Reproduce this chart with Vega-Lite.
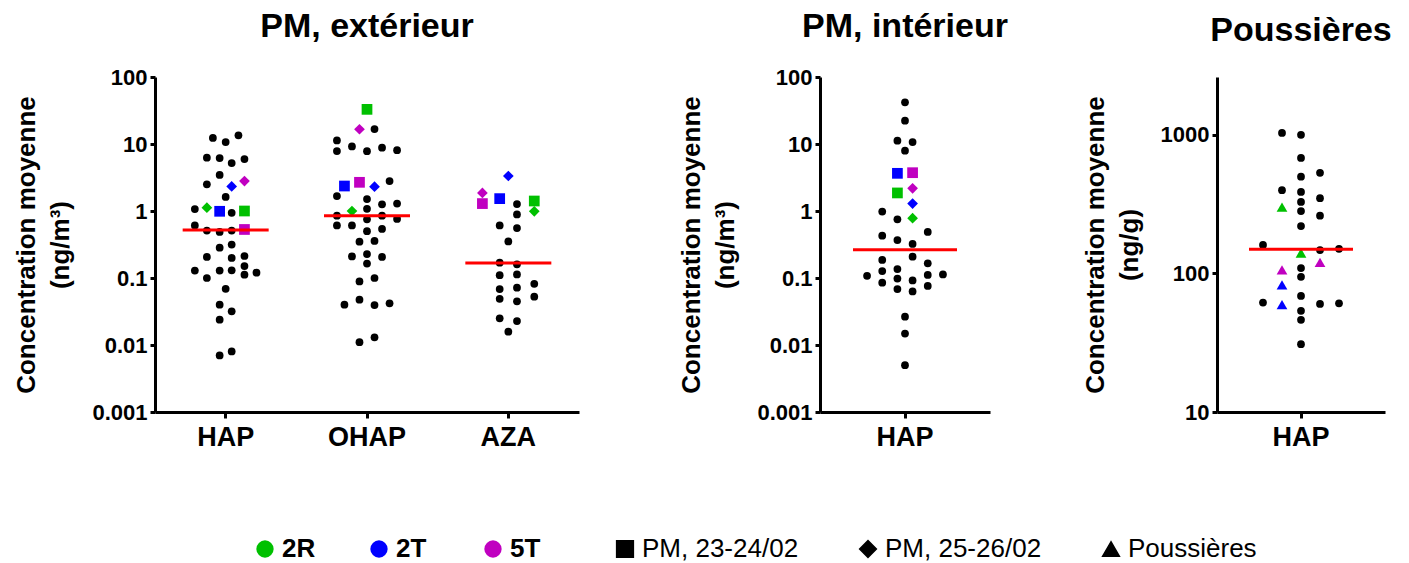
{
  "$schema": "https://vega.github.io/schema/vega-lite/v6.json",
  "background": "white",
  "padding": {"left": 13, "top": 10, "right": 5, "bottom": 0},
  "config": {
    "font": "Liberation Sans",
    "view": {"stroke": null},
    "axis": {"domainColor": "black", "domainWidth": 3, "tickColor": "black", "tickWidth": 3, "labelColor": "black", "labelFontWeight": "bold", "titleFontWeight": "bold", "titleColor": "black", "grid": false},
    "axisY": {"labelFontSize": 22, "tickSize": 5, "labelPadding": 3, "titleFontSize": 26, "titleLineHeight": 34, "titlePadding": 18},
    "axisX": {"labelFontSize": 27, "tickSize": 6, "labelPadding": 6, "labelAngle": 0},
    "title": {"fontSize": 34, "fontWeight": "bold", "color": "black", "frame": "group", "anchor": "middle", "offset": 22},
    "legend": {"labelColor": "black", "labelFontSize": 26, "padding": 0}
  },
  "datasets": {
    "points": [
      {"panneau": "ext", "cat": "HAP", "site": "autre", "type": "autre", "rang": -1.7, "valeur": 12.3},
      {"panneau": "ext", "cat": "HAP", "site": "autre", "type": "autre", "rang": 0, "valeur": 10.7},
      {"panneau": "ext", "cat": "HAP", "site": "autre", "type": "autre", "rang": 1.7, "valeur": 13.5},
      {"panneau": "ext", "cat": "HAP", "site": "autre", "type": "autre", "rang": -2.5, "valeur": 6.25},
      {"panneau": "ext", "cat": "HAP", "site": "autre", "type": "autre", "rang": -0.8, "valeur": 6.18},
      {"panneau": "ext", "cat": "HAP", "site": "autre", "type": "autre", "rang": 0.8, "valeur": 5.2},
      {"panneau": "ext", "cat": "HAP", "site": "autre", "type": "autre", "rang": 2.5, "valeur": 5.97},
      {"panneau": "ext", "cat": "HAP", "site": "autre", "type": "autre", "rang": -0.8, "valeur": 3.45},
      {"panneau": "ext", "cat": "HAP", "site": "autre", "type": "autre", "rang": -2.5, "valeur": 2.5},
      {"panneau": "ext", "cat": "HAP", "site": "autre", "type": "autre", "rang": 0, "valeur": 1.62},
      {"panneau": "ext", "cat": "HAP", "site": "autre", "type": "autre", "rang": -4.1, "valeur": 1.07},
      {"panneau": "ext", "cat": "HAP", "site": "autre", "type": "autre", "rang": 0.8, "valeur": 0.94},
      {"panneau": "ext", "cat": "HAP", "site": "autre", "type": "autre", "rang": -4.1, "valeur": 0.61},
      {"panneau": "ext", "cat": "HAP", "site": "autre", "type": "autre", "rang": -2.5, "valeur": 0.51},
      {"panneau": "ext", "cat": "HAP", "site": "autre", "type": "autre", "rang": -0.8, "valeur": 0.486},
      {"panneau": "ext", "cat": "HAP", "site": "autre", "type": "autre", "rang": 0.8, "valeur": 0.51},
      {"panneau": "ext", "cat": "HAP", "site": "autre", "type": "autre", "rang": -0.8, "valeur": 0.284},
      {"panneau": "ext", "cat": "HAP", "site": "autre", "type": "autre", "rang": 0.8, "valeur": 0.315},
      {"panneau": "ext", "cat": "HAP", "site": "autre", "type": "autre", "rang": -2.5, "valeur": 0.206},
      {"panneau": "ext", "cat": "HAP", "site": "autre", "type": "autre", "rang": 0.8, "valeur": 0.199},
      {"panneau": "ext", "cat": "HAP", "site": "autre", "type": "autre", "rang": 2.5, "valeur": 0.213},
      {"panneau": "ext", "cat": "HAP", "site": "autre", "type": "autre", "rang": -4.1, "valeur": 0.129},
      {"panneau": "ext", "cat": "HAP", "site": "autre", "type": "autre", "rang": -0.8, "valeur": 0.129},
      {"panneau": "ext", "cat": "HAP", "site": "autre", "type": "autre", "rang": 0.8, "valeur": 0.13},
      {"panneau": "ext", "cat": "HAP", "site": "autre", "type": "autre", "rang": 2.5, "valeur": 0.151},
      {"panneau": "ext", "cat": "HAP", "site": "autre", "type": "autre", "rang": 2.5, "valeur": 0.112},
      {"panneau": "ext", "cat": "HAP", "site": "autre", "type": "autre", "rang": 4.1, "valeur": 0.12},
      {"panneau": "ext", "cat": "HAP", "site": "autre", "type": "autre", "rang": -2.5, "valeur": 0.1},
      {"panneau": "ext", "cat": "HAP", "site": "autre", "type": "autre", "rang": 0, "valeur": 0.069},
      {"panneau": "ext", "cat": "HAP", "site": "autre", "type": "autre", "rang": -0.8, "valeur": 0.04},
      {"panneau": "ext", "cat": "HAP", "site": "autre", "type": "autre", "rang": 0.8, "valeur": 0.0318},
      {"panneau": "ext", "cat": "HAP", "site": "autre", "type": "autre", "rang": -0.8, "valeur": 0.0239},
      {"panneau": "ext", "cat": "HAP", "site": "autre", "type": "autre", "rang": -0.8, "valeur": 0.007},
      {"panneau": "ext", "cat": "HAP", "site": "autre", "type": "autre", "rang": 0.8, "valeur": 0.008},
      {"panneau": "ext", "cat": "HAP", "site": "2T", "type": "PM, 25-26/02", "rang": 0.8, "valeur": 2.33},
      {"panneau": "ext", "cat": "HAP", "site": "5T", "type": "PM, 25-26/02", "rang": 2.5, "valeur": 2.8},
      {"panneau": "ext", "cat": "HAP", "site": "2R", "type": "PM, 25-26/02", "rang": -2.5, "valeur": 1.12},
      {"panneau": "ext", "cat": "HAP", "site": "2T", "type": "PM, 23-24/02", "rang": -0.8, "valeur": 0.99},
      {"panneau": "ext", "cat": "HAP", "site": "2R", "type": "PM, 23-24/02", "rang": 2.5, "valeur": 1.0},
      {"panneau": "ext", "cat": "HAP", "site": "5T", "type": "PM, 23-24/02", "rang": 2.5, "valeur": 0.53},

      {"panneau": "ext", "cat": "OHAP", "site": "autre", "type": "autre", "rang": 1, "valeur": 16.7},
      {"panneau": "ext", "cat": "OHAP", "site": "autre", "type": "autre", "rang": -4, "valeur": 11.3},
      {"panneau": "ext", "cat": "OHAP", "site": "autre", "type": "autre", "rang": -4, "valeur": 7.86},
      {"panneau": "ext", "cat": "OHAP", "site": "autre", "type": "autre", "rang": -2, "valeur": 9.2},
      {"panneau": "ext", "cat": "OHAP", "site": "autre", "type": "autre", "rang": 0, "valeur": 7.8},
      {"panneau": "ext", "cat": "OHAP", "site": "autre", "type": "autre", "rang": 2, "valeur": 8.8},
      {"panneau": "ext", "cat": "OHAP", "site": "autre", "type": "autre", "rang": 4, "valeur": 8.1},
      {"panneau": "ext", "cat": "OHAP", "site": "autre", "type": "autre", "rang": 3, "valeur": 2.8},
      {"panneau": "ext", "cat": "OHAP", "site": "autre", "type": "autre", "rang": -4, "valeur": 1.67},
      {"panneau": "ext", "cat": "OHAP", "site": "autre", "type": "autre", "rang": 0, "valeur": 1.51},
      {"panneau": "ext", "cat": "OHAP", "site": "autre", "type": "autre", "rang": 0, "valeur": 1.08},
      {"panneau": "ext", "cat": "OHAP", "site": "autre", "type": "autre", "rang": 2, "valeur": 1.26},
      {"panneau": "ext", "cat": "OHAP", "site": "autre", "type": "autre", "rang": 4, "valeur": 1.29},
      {"panneau": "ext", "cat": "OHAP", "site": "autre", "type": "autre", "rang": -4, "valeur": 0.85},
      {"panneau": "ext", "cat": "OHAP", "site": "autre", "type": "autre", "rang": 2, "valeur": 0.85},
      {"panneau": "ext", "cat": "OHAP", "site": "autre", "type": "autre", "rang": 0, "valeur": 0.75},
      {"panneau": "ext", "cat": "OHAP", "site": "autre", "type": "autre", "rang": 4, "valeur": 0.76},
      {"panneau": "ext", "cat": "OHAP", "site": "autre", "type": "autre", "rang": -4, "valeur": 0.61},
      {"panneau": "ext", "cat": "OHAP", "site": "autre", "type": "autre", "rang": -2, "valeur": 0.61},
      {"panneau": "ext", "cat": "OHAP", "site": "autre", "type": "autre", "rang": 0, "valeur": 0.5},
      {"panneau": "ext", "cat": "OHAP", "site": "autre", "type": "autre", "rang": 2, "valeur": 0.54},
      {"panneau": "ext", "cat": "OHAP", "site": "autre", "type": "autre", "rang": -1, "valeur": 0.348},
      {"panneau": "ext", "cat": "OHAP", "site": "autre", "type": "autre", "rang": 1, "valeur": 0.357},
      {"panneau": "ext", "cat": "OHAP", "site": "autre", "type": "autre", "rang": -2, "valeur": 0.21},
      {"panneau": "ext", "cat": "OHAP", "site": "autre", "type": "autre", "rang": 0, "valeur": 0.228},
      {"panneau": "ext", "cat": "OHAP", "site": "autre", "type": "autre", "rang": 2, "valeur": 0.206},
      {"panneau": "ext", "cat": "OHAP", "site": "autre", "type": "autre", "rang": 0, "valeur": 0.164},
      {"panneau": "ext", "cat": "OHAP", "site": "autre", "type": "autre", "rang": -1, "valeur": 0.089},
      {"panneau": "ext", "cat": "OHAP", "site": "autre", "type": "autre", "rang": 1, "valeur": 0.1},
      {"panneau": "ext", "cat": "OHAP", "site": "autre", "type": "autre", "rang": -3, "valeur": 0.04},
      {"panneau": "ext", "cat": "OHAP", "site": "autre", "type": "autre", "rang": -1, "valeur": 0.0475},
      {"panneau": "ext", "cat": "OHAP", "site": "autre", "type": "autre", "rang": 1, "valeur": 0.0395},
      {"panneau": "ext", "cat": "OHAP", "site": "autre", "type": "autre", "rang": 3, "valeur": 0.0419},
      {"panneau": "ext", "cat": "OHAP", "site": "autre", "type": "autre", "rang": -1, "valeur": 0.011},
      {"panneau": "ext", "cat": "OHAP", "site": "autre", "type": "autre", "rang": 1, "valeur": 0.013},
      {"panneau": "ext", "cat": "OHAP", "site": "2R", "type": "PM, 23-24/02", "rang": 0, "valeur": 32.9},
      {"panneau": "ext", "cat": "OHAP", "site": "5T", "type": "PM, 25-26/02", "rang": -1, "valeur": 16.6},
      {"panneau": "ext", "cat": "OHAP", "site": "2T", "type": "PM, 23-24/02", "rang": -3, "valeur": 2.36},
      {"panneau": "ext", "cat": "OHAP", "site": "5T", "type": "PM, 23-24/02", "rang": -1, "valeur": 2.68},
      {"panneau": "ext", "cat": "OHAP", "site": "2T", "type": "PM, 25-26/02", "rang": 1, "valeur": 2.31},
      {"panneau": "ext", "cat": "OHAP", "site": "2R", "type": "PM, 25-26/02", "rang": -2, "valeur": 1.0},

      {"panneau": "ext", "cat": "AZA", "site": "autre", "type": "autre", "rang": 1.15, "valeur": 1.27},
      {"panneau": "ext", "cat": "AZA", "site": "autre", "type": "autre", "rang": 1.15, "valeur": 0.89},
      {"panneau": "ext", "cat": "AZA", "site": "autre", "type": "autre", "rang": -1.15, "valeur": 0.61},
      {"panneau": "ext", "cat": "AZA", "site": "autre", "type": "autre", "rang": 1.15, "valeur": 0.557},
      {"panneau": "ext", "cat": "AZA", "site": "autre", "type": "autre", "rang": 0, "valeur": 0.352},
      {"panneau": "ext", "cat": "AZA", "site": "autre", "type": "autre", "rang": -1.15, "valeur": 0.169},
      {"panneau": "ext", "cat": "AZA", "site": "autre", "type": "autre", "rang": 1.15, "valeur": 0.16},
      {"panneau": "ext", "cat": "AZA", "site": "autre", "type": "autre", "rang": -1.15, "valeur": 0.11},
      {"panneau": "ext", "cat": "AZA", "site": "autre", "type": "autre", "rang": 1.15, "valeur": 0.113},
      {"panneau": "ext", "cat": "AZA", "site": "autre", "type": "autre", "rang": 3.45, "valeur": 0.082},
      {"panneau": "ext", "cat": "AZA", "site": "autre", "type": "autre", "rang": -1.15, "valeur": 0.0685},
      {"panneau": "ext", "cat": "AZA", "site": "autre", "type": "autre", "rang": 1.15, "valeur": 0.0718},
      {"panneau": "ext", "cat": "AZA", "site": "autre", "type": "autre", "rang": -1.15, "valeur": 0.049},
      {"panneau": "ext", "cat": "AZA", "site": "autre", "type": "autre", "rang": 1.15, "valeur": 0.0448},
      {"panneau": "ext", "cat": "AZA", "site": "autre", "type": "autre", "rang": 3.45, "valeur": 0.0526},
      {"panneau": "ext", "cat": "AZA", "site": "autre", "type": "autre", "rang": -1.15, "valeur": 0.025},
      {"panneau": "ext", "cat": "AZA", "site": "autre", "type": "autre", "rang": 1.15, "valeur": 0.0228},
      {"panneau": "ext", "cat": "AZA", "site": "autre", "type": "autre", "rang": 0, "valeur": 0.0158},
      {"panneau": "ext", "cat": "AZA", "site": "2T", "type": "PM, 25-26/02", "rang": 0, "valeur": 3.33},
      {"panneau": "ext", "cat": "AZA", "site": "5T", "type": "PM, 25-26/02", "rang": -3.45, "valeur": 1.86},
      {"panneau": "ext", "cat": "AZA", "site": "5T", "type": "PM, 23-24/02", "rang": -3.45, "valeur": 1.29},
      {"panneau": "ext", "cat": "AZA", "site": "2T", "type": "PM, 23-24/02", "rang": -1.15, "valeur": 1.53},
      {"panneau": "ext", "cat": "AZA", "site": "2R", "type": "PM, 23-24/02", "rang": 3.45, "valeur": 1.41},
      {"panneau": "ext", "cat": "AZA", "site": "2R", "type": "PM, 25-26/02", "rang": 3.45, "valeur": 0.99},

      {"panneau": "int", "cat": "HAP", "site": "autre", "type": "autre", "rang": 0, "valeur": 41.9},
      {"panneau": "int", "cat": "HAP", "site": "autre", "type": "autre", "rang": 0, "valeur": 22.3},
      {"panneau": "int", "cat": "HAP", "site": "autre", "type": "autre", "rang": -1, "valeur": 11.2},
      {"panneau": "int", "cat": "HAP", "site": "autre", "type": "autre", "rang": 1, "valeur": 10.7},
      {"panneau": "int", "cat": "HAP", "site": "autre", "type": "autre", "rang": 0, "valeur": 7.95},
      {"panneau": "int", "cat": "HAP", "site": "autre", "type": "autre", "rang": -3, "valeur": 0.98},
      {"panneau": "int", "cat": "HAP", "site": "autre", "type": "autre", "rang": -1, "valeur": 0.75},
      {"panneau": "int", "cat": "HAP", "site": "autre", "type": "autre", "rang": -3, "valeur": 0.428},
      {"panneau": "int", "cat": "HAP", "site": "autre", "type": "autre", "rang": 3, "valeur": 0.486},
      {"panneau": "int", "cat": "HAP", "site": "autre", "type": "autre", "rang": -1, "valeur": 0.369},
      {"panneau": "int", "cat": "HAP", "site": "autre", "type": "autre", "rang": 1, "valeur": 0.322},
      {"panneau": "int", "cat": "HAP", "site": "autre", "type": "autre", "rang": 1, "valeur": 0.208},
      {"panneau": "int", "cat": "HAP", "site": "autre", "type": "autre", "rang": -3, "valeur": 0.186},
      {"panneau": "int", "cat": "HAP", "site": "autre", "type": "autre", "rang": 3, "valeur": 0.166},
      {"panneau": "int", "cat": "HAP", "site": "autre", "type": "autre", "rang": -5, "valeur": 0.108},
      {"panneau": "int", "cat": "HAP", "site": "autre", "type": "autre", "rang": -3, "valeur": 0.127},
      {"panneau": "int", "cat": "HAP", "site": "autre", "type": "autre", "rang": -1, "valeur": 0.136},
      {"panneau": "int", "cat": "HAP", "site": "autre", "type": "autre", "rang": 3, "valeur": 0.111},
      {"panneau": "int", "cat": "HAP", "site": "autre", "type": "autre", "rang": 5, "valeur": 0.113},
      {"panneau": "int", "cat": "HAP", "site": "autre", "type": "autre", "rang": -3, "valeur": 0.085},
      {"panneau": "int", "cat": "HAP", "site": "autre", "type": "autre", "rang": -1, "valeur": 0.098},
      {"panneau": "int", "cat": "HAP", "site": "autre", "type": "autre", "rang": 1, "valeur": 0.092},
      {"panneau": "int", "cat": "HAP", "site": "autre", "type": "autre", "rang": 3, "valeur": 0.076},
      {"panneau": "int", "cat": "HAP", "site": "autre", "type": "autre", "rang": -1, "valeur": 0.0685},
      {"panneau": "int", "cat": "HAP", "site": "autre", "type": "autre", "rang": 1, "valeur": 0.063},
      {"panneau": "int", "cat": "HAP", "site": "autre", "type": "autre", "rang": 0, "valeur": 0.0265},
      {"panneau": "int", "cat": "HAP", "site": "autre", "type": "autre", "rang": 0, "valeur": 0.0148},
      {"panneau": "int", "cat": "HAP", "site": "autre", "type": "autre", "rang": 0, "valeur": 0.005},
      {"panneau": "int", "cat": "HAP", "site": "2T", "type": "PM, 23-24/02", "rang": -1, "valeur": 3.65},
      {"panneau": "int", "cat": "HAP", "site": "5T", "type": "PM, 23-24/02", "rang": 1, "valeur": 3.73},
      {"panneau": "int", "cat": "HAP", "site": "5T", "type": "PM, 25-26/02", "rang": 1, "valeur": 2.18},
      {"panneau": "int", "cat": "HAP", "site": "2R", "type": "PM, 23-24/02", "rang": -1, "valeur": 1.86},
      {"panneau": "int", "cat": "HAP", "site": "2T", "type": "PM, 25-26/02", "rang": 1, "valeur": 1.29},
      {"panneau": "int", "cat": "HAP", "site": "2R", "type": "PM, 25-26/02", "rang": 1, "valeur": 0.78},

      {"panneau": "pous", "cat": "HAP", "site": "autre", "type": "autre", "rang": -1, "valeur": 1028},
      {"panneau": "pous", "cat": "HAP", "site": "autre", "type": "autre", "rang": 0, "valeur": 995},
      {"panneau": "pous", "cat": "HAP", "site": "autre", "type": "autre", "rang": 0, "valeur": 678},
      {"panneau": "pous", "cat": "HAP", "site": "autre", "type": "autre", "rang": 1, "valeur": 530},
      {"panneau": "pous", "cat": "HAP", "site": "autre", "type": "autre", "rang": 0, "valeur": 497},
      {"panneau": "pous", "cat": "HAP", "site": "autre", "type": "autre", "rang": -1, "valeur": 397},
      {"panneau": "pous", "cat": "HAP", "site": "autre", "type": "autre", "rang": 0, "valeur": 386},
      {"panneau": "pous", "cat": "HAP", "site": "autre", "type": "autre", "rang": 1, "valeur": 348},
      {"panneau": "pous", "cat": "HAP", "site": "autre", "type": "autre", "rang": 0, "valeur": 327},
      {"panneau": "pous", "cat": "HAP", "site": "autre", "type": "autre", "rang": 0, "valeur": 281},
      {"panneau": "pous", "cat": "HAP", "site": "autre", "type": "autre", "rang": 1, "valeur": 260},
      {"panneau": "pous", "cat": "HAP", "site": "autre", "type": "autre", "rang": 0, "valeur": 219},
      {"panneau": "pous", "cat": "HAP", "site": "autre", "type": "autre", "rang": -2, "valeur": 160},
      {"panneau": "pous", "cat": "HAP", "site": "autre", "type": "autre", "rang": 1, "valeur": 147},
      {"panneau": "pous", "cat": "HAP", "site": "autre", "type": "autre", "rang": 2, "valeur": 150},
      {"panneau": "pous", "cat": "HAP", "site": "autre", "type": "autre", "rang": 0, "valeur": 109},
      {"panneau": "pous", "cat": "HAP", "site": "autre", "type": "autre", "rang": 0, "valeur": 94.3},
      {"panneau": "pous", "cat": "HAP", "site": "autre", "type": "autre", "rang": 0, "valeur": 68.6},
      {"panneau": "pous", "cat": "HAP", "site": "autre", "type": "autre", "rang": -2, "valeur": 61.5},
      {"panneau": "pous", "cat": "HAP", "site": "autre", "type": "autre", "rang": 1, "valeur": 60.1},
      {"panneau": "pous", "cat": "HAP", "site": "autre", "type": "autre", "rang": 2, "valeur": 60.8},
      {"panneau": "pous", "cat": "HAP", "site": "autre", "type": "autre", "rang": 0, "valeur": 53.6},
      {"panneau": "pous", "cat": "HAP", "site": "autre", "type": "autre", "rang": 0, "valeur": 46.2},
      {"panneau": "pous", "cat": "HAP", "site": "autre", "type": "autre", "rang": 0, "valeur": 30.8},
      {"panneau": "pous", "cat": "HAP", "site": "2R", "type": "Poussières", "rang": -1, "valeur": 300},
      {"panneau": "pous", "cat": "HAP", "site": "2R", "type": "Poussières", "rang": 0, "valeur": 140},
      {"panneau": "pous", "cat": "HAP", "site": "5T", "type": "Poussières", "rang": 1, "valeur": 120},
      {"panneau": "pous", "cat": "HAP", "site": "5T", "type": "Poussières", "rang": -1, "valeur": 106},
      {"panneau": "pous", "cat": "HAP", "site": "2T", "type": "Poussières", "rang": -1, "valeur": 82.6},
      {"panneau": "pous", "cat": "HAP", "site": "2T", "type": "Poussières", "rang": -1, "valeur": 59.5}
    ],
    "medianes": [
      {"panneau": "ext", "cat": "HAP", "valeur": 0.52},
      {"panneau": "ext", "cat": "OHAP", "valeur": 0.85},
      {"panneau": "ext", "cat": "AZA", "valeur": 0.167},
      {"panneau": "int", "cat": "HAP", "valeur": 0.265},
      {"panneau": "pous", "cat": "HAP", "valeur": 149}
    ]
  },
  "bounds": "flush",
  "spacing": 241,
  "resolve": {"scale": {"xOffset": "independent", "color": "shared", "shape": "shared"}},
  "hconcat": [
    {
      "width": 424,
      "height": 335,
      "title": {"text": "PM, extérieur"},
      "layer": [
        {
          "data": {"name": "points"},
          "transform": [{"filter": "datum.panneau === 'ext'"}],
          "mark": {"type": "point", "filled": true, "opacity": 1, "color": "black"},
          "encoding": {
            "x": {"field": "cat", "type": "nominal", "sort": ["HAP", "OHAP", "AZA"], "scale": {"paddingInner": 0, "paddingOuter": 0}, "axis": {"title": null}},
            "xOffset": {"field": "rang", "type": "quantitative", "scale": {"domain": [-9.4, 9.4]}},
            "y": {"field": "valeur", "type": "quantitative", "scale": {"type": "log", "domain": [0.001, 100], "nice": false}, "axis": {"values": [0.001, 0.01, 0.1, 1, 10, 100], "format": "~g", "title": ["Concentration moyenne", "(ng/m³)"]}},
            "color": {"field": "site", "type": "nominal", "scale": {"domain": ["autre", "2R", "2T", "5T"], "range": ["#000000", "#00C000", "#0000FF", "#C000C0"]}, "legend": {"values": ["2R", "2T", "5T"], "orient": "none", "legendX": 97, "legendY": 459, "direction": "horizontal", "columns": 3, "title": null, "symbolType": "circle", "symbolSize": 300, "labelFontWeight": "bold", "columnPadding": 50, "gridAlign": "all"}},
            "shape": {"field": "type", "type": "nominal", "scale": {"domain": ["autre", "PM, 23-24/02", "PM, 25-26/02", "Poussières"], "range": ["circle", "square", "diamond", "triangle-up"]}, "legend": {"values": ["PM, 23-24/02", "PM, 25-26/02", "Poussières"], "orient": "none", "legendX": 457, "legendY": 459, "direction": "horizontal", "columns": 3, "title": null, "symbolSize": 280, "symbolFillColor": "black", "symbolStrokeColor": "black", "labelFontWeight": "normal", "columnPadding": 56, "gridAlign": "all"}},
            "size": {"condition": {"test": "datum.type === 'autre'", "value": 60}, "value": 115}
          }
        },
        {
          "data": {"name": "medianes"},
          "transform": [{"filter": "datum.panneau === 'ext'"}],
          "mark": {"type": "tick", "color": "#FF0000", "thickness": 3, "size": 86, "opacity": 1},
          "encoding": {
            "x": {"field": "cat", "type": "nominal", "sort": ["HAP", "OHAP", "AZA"]},
            "y": {"field": "valeur", "type": "quantitative"}
          }
        }
      ]
    },
    {
      "bounds": "flush",
      "spacing": 227,
      "resolve": {"scale": {"xOffset": "independent", "color": "shared", "shape": "shared"}},
      "hconcat": [
        {
          "width": 170,
          "height": 335,
          "title": {"text": "PM, intérieur"},
          "layer": [
            {
              "data": {"name": "points"},
              "transform": [{"filter": "datum.panneau === 'int'"}],
              "mark": {"type": "point", "filled": true, "opacity": 1, "color": "black"},
              "encoding": {
                "x": {"field": "cat", "type": "nominal", "scale": {"paddingInner": 0, "paddingOuter": 0}, "axis": {"title": null}},
                "xOffset": {"field": "rang", "type": "quantitative", "scale": {"domain": [-11.2, 11.2]}},
                "y": {"field": "valeur", "type": "quantitative", "scale": {"type": "log", "domain": [0.001, 100], "nice": false}, "axis": {"values": [0.001, 0.01, 0.1, 1, 10, 100], "format": "~g", "title": ["Concentration moyenne", "(ng/m³)"]}},
                "color": {"field": "site", "type": "nominal", "scale": {"domain": ["autre", "2R", "2T", "5T"], "range": ["#000000", "#00C000", "#0000FF", "#C000C0"]}, "legend": {"values": ["2R", "2T", "5T"], "orient": "none", "legendX": 97, "legendY": 459, "direction": "horizontal", "columns": 3, "title": null, "symbolType": "circle", "symbolSize": 300, "labelFontWeight": "bold", "columnPadding": 50, "gridAlign": "all"}},
                "shape": {"field": "type", "type": "nominal", "scale": {"domain": ["autre", "PM, 23-24/02", "PM, 25-26/02", "Poussières"], "range": ["circle", "square", "diamond", "triangle-up"]}, "legend": {"values": ["PM, 23-24/02", "PM, 25-26/02", "Poussières"], "orient": "none", "legendX": 457, "legendY": 459, "direction": "horizontal", "columns": 3, "title": null, "symbolSize": 280, "symbolFillColor": "black", "symbolStrokeColor": "black", "labelFontWeight": "normal", "columnPadding": 56, "gridAlign": "all"}},
                "size": {"condition": {"test": "datum.type === 'autre'", "value": 60}, "value": 115}
              }
            },
            {
              "data": {"name": "medianes"},
              "transform": [{"filter": "datum.panneau === 'int'"}],
              "mark": {"type": "tick", "color": "#FF0000", "thickness": 3, "size": 104, "opacity": 1},
              "encoding": {
                "x": {"field": "cat", "type": "nominal"},
                "y": {"field": "valeur", "type": "quantitative"}
              }
            }
          ]
        },
        {
          "width": 168,
          "height": 335,
          "title": {"text": "Poussières", "offset": 29},
          "layer": [
            {
              "data": {"name": "points"},
              "transform": [{"filter": "datum.panneau === 'pous'"}],
              "mark": {"type": "point", "filled": true, "opacity": 1, "color": "black"},
              "encoding": {
                "x": {"field": "cat", "type": "nominal", "scale": {"paddingInner": 0, "paddingOuter": 0}, "axis": {"title": null}},
                "xOffset": {"field": "rang", "type": "quantitative", "scale": {"domain": [-4.42, 4.42]}},
                "y": {"field": "valeur", "type": "quantitative", "scale": {"type": "log", "domain": [10, 2600], "nice": false}, "axis": {"values": [10, 100, 1000], "format": "~g", "title": ["Concentration moyenne", "(ng/g)"]}},
                "color": {"field": "site", "type": "nominal", "scale": {"domain": ["autre", "2R", "2T", "5T"], "range": ["#000000", "#00C000", "#0000FF", "#C000C0"]}, "legend": {"values": ["2R", "2T", "5T"], "orient": "none", "legendX": 97, "legendY": 459, "direction": "horizontal", "columns": 3, "title": null, "symbolType": "circle", "symbolSize": 300, "labelFontWeight": "bold", "columnPadding": 50, "gridAlign": "all"}},
                "shape": {"field": "type", "type": "nominal", "scale": {"domain": ["autre", "PM, 23-24/02", "PM, 25-26/02", "Poussières"], "range": ["circle", "square", "diamond", "triangle-up"]}, "legend": {"values": ["PM, 23-24/02", "PM, 25-26/02", "Poussières"], "orient": "none", "legendX": 457, "legendY": 459, "direction": "horizontal", "columns": 3, "title": null, "symbolSize": 280, "symbolFillColor": "black", "symbolStrokeColor": "black", "labelFontWeight": "normal", "columnPadding": 56, "gridAlign": "all"}},
                "size": {"condition": {"test": "datum.type === 'autre'", "value": 60}, "value": 115}
              }
            },
            {
              "data": {"name": "medianes"},
              "transform": [{"filter": "datum.panneau === 'pous'"}],
              "mark": {"type": "tick", "color": "#FF0000", "thickness": 3, "size": 104, "opacity": 1},
              "encoding": {
                "x": {"field": "cat", "type": "nominal"},
                "y": {"field": "valeur", "type": "quantitative"}
              }
            }
          ]
        }
      ]
    }
  ]
}
